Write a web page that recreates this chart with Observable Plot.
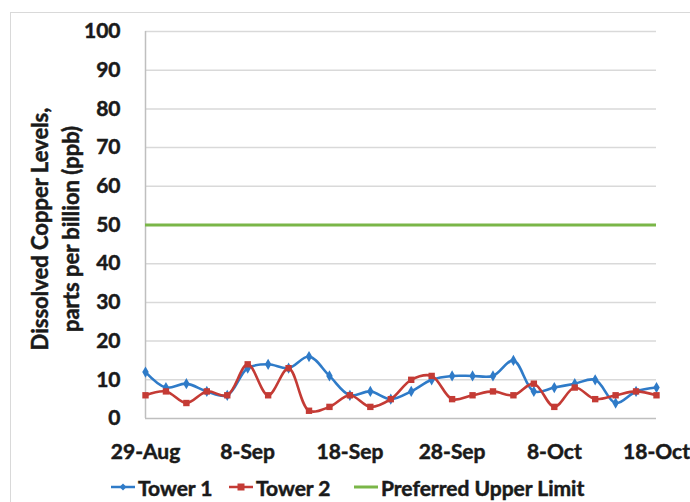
<!DOCTYPE html>
<html><head><meta charset="utf-8">
<script src="https://cdn.jsdelivr.net/npm/d3@7"></script>
<script src="https://cdn.jsdelivr.net/npm/@observablehq/plot@0.6"></script>
<style>
body{margin:0;background:#fff;}
#wrap{position:relative;width:690px;height:502px;overflow:hidden;font-family:Lato,sans-serif;font-weight:bold;color:#1a1a1a;}
#frame{position:absolute;left:10px;top:12px;width:720px;height:540px;border:1.5px solid #d9d9d9;box-sizing:border-box;}
#chart{position:absolute;left:0;top:0;}
#chart svg text{stroke:#1a1a1a;stroke-width:0.5px;}
.leg{position:absolute;top:475px;height:24px;display:flex;align-items:center;font-size:21px;white-space:nowrap;-webkit-text-stroke:0.5px #1a1a1a;}
.leg svg{margin-right:2px;}
</style>
</head><body>
<div id="wrap"><div id="frame"></div><div id="chart"></div></div>
<script>
const dates = ["2014-08-29","2014-08-31","2014-09-02","2014-09-04","2014-09-06","2014-09-08","2014-09-10","2014-09-12","2014-09-14","2014-09-16","2014-09-18","2014-09-20","2014-09-22","2014-09-24","2014-09-26","2014-09-28","2014-09-30","2014-10-02","2014-10-04","2014-10-06","2014-10-08","2014-10-10","2014-10-12","2014-10-14","2014-10-16","2014-10-18"];
const tower1 = [12,8,9,7,6,13,14,13,16,11,6,7,5,7,10,11,11,11,15,7,8,9,10,4,7,8];
const tower2 = [6,7,4,7,6,14,6,13,2,3,6,3,5,10,11,5,6,7,6,9,3,8,5,6,7,6];
const upperLimit = 50;
const xTickLabels = ["2014-08-29","2014-09-08","2014-09-18","2014-09-28","2014-10-08","2014-10-18"];
const yTicks = [0,10,20,30,40,50,60,70,80,90,100];
const yTitle = "Dissolved Copper Levels,\nparts per billion (ppb)";
const seriesNames = ["Tower 1","Tower 2","Preferred Upper Limit"];
const colors = {"Tower 1":"#2f7bc8","Tower 2":"#c43b35","Preferred Upper Limit":"#7ab648"};

const parse = d3.utcParse("%Y-%m-%d");
const t1 = dates.map((d,i)=>({date:parse(d), value:tower1[i]}));
const t2 = dates.map((d,i)=>({date:parse(d), value:tower2[i]}));
const xDomain = [parse(dates[0]), parse(dates[dates.length-1])];

const chart = Plot.plot({
  width: 690, height: 470,
  marginLeft: 145, marginRight: 34, marginTop: 31, marginBottom: 52,
  style: {fontFamily: "Lato, sans-serif", fontSize: "21px", fontWeight: "bold", color: "#1a1a1a", background: "transparent"},
  x: {type: "utc", domain: xDomain, ticks: xTickLabels.map(parse), tickFormat: d3.utcFormat("%-d-%b"), tickSize: 0, tickPadding: 26, label: null},
  y: {domain: [0,100], ticks: yTicks, tickSize: 0, tickPadding: 25, label: null},
  marks: [
    Plot.ruleY(yTicks.filter(d=>d>0), {stroke: "#d9d9d9", strokeWidth: 1.5}),
    Plot.ruleY([0], {stroke: "#bfbfbf", strokeWidth: 1.5}),
    Plot.ruleX([xDomain[0]], {y1: 0, y2: 100, stroke: "#bfbfbf", strokeWidth: 1.5}),
    Plot.ruleY([upperLimit], {stroke: colors["Preferred Upper Limit"], strokeWidth: 3}),
    Plot.line(t1, {x: "date", y: "value", stroke: colors["Tower 1"], strokeWidth: 2.6, curve: "catmull-rom"}),
    Plot.dot(t1, {x: "date", y: "value", symbol: "diamond", r: 3.4, fill: colors["Tower 1"], stroke: "none"}),
    Plot.line(t2, {x: "date", y: "value", stroke: colors["Tower 2"], strokeWidth: 2.6, curve: "catmull-rom"}),
    Plot.dot(t2, {x: "date", y: "value", symbol: "square", r: 3.6, fill: colors["Tower 2"], stroke: "none"}),
    Plot.text([yTitle], {frameAnchor: "left", text: d=>d, rotate: -90, dx: -92, dy: 4, lineHeight: 1.4, fontSize: 22, fontWeight: "bold", textAnchor: "middle", lineAnchor: "middle", fill: "#1a1a1a"})
  ]
});
document.getElementById("chart").appendChild(chart);

const legLeft = [110, 228, 353];
const wrap = document.getElementById("wrap");
seriesNames.forEach((name,i)=>{
  const div = document.createElement("div");
  div.className = "leg";
  div.style.left = legLeft[i] + "px";
  const c = colors[name];
  let marker = "";
  if (i===0) marker = `<path d="M13,2.5 L16.5,6 L13,9.5 L9.5,6 Z" fill="${c}"/>`;
  if (i===1) marker = `<rect x="9.5" y="2.5" width="7" height="7" fill="${c}"/>`;
  div.innerHTML = `<svg width="26" height="12"><line x1="1" x2="25" y1="6" y2="6" stroke="${c}" stroke-width="${i===2?3:2.5}"/>${marker}</svg><span>${name}</span>`;
  wrap.appendChild(div);
});
</script>
</body></html>
